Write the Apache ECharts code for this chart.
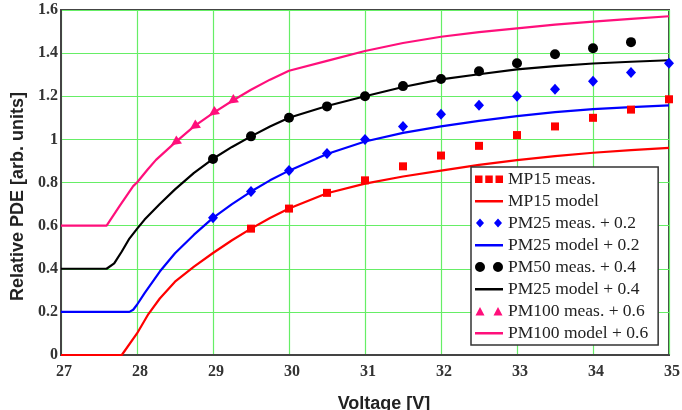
<!DOCTYPE html>
<html>
<head>
<meta charset="utf-8">
<script src="https://cdn.jsdelivr.net/npm/echarts@6/dist/echarts.min.js"></script>
<style>
  html, body { margin: 0; padding: 0; background: #fff; }
  #chart { width: 682px; height: 410px; }
</style>
</head>
<body>
<div id="chart"></div>
<script>
// ---- data ----
var xTicks = [27, 28, 29, 30, 31, 32, 33, 34, 35];
var yTicks = [0, 0.2, 0.4, 0.6, 0.8, 1, 1.2, 1.4, 1.6];

var mp15MeasX = [29.5, 30, 30.5, 31, 31.5, 32, 32.5, 33, 33.5, 34, 34.5, 35];
var mp15MeasY = [0.586, 0.679, 0.752, 0.81, 0.875, 0.925, 0.97, 1.02, 1.06, 1.10, 1.138, 1.186];

var mp15ModelX = [27, 27.8, 28, 28.15, 28.3, 28.5, 28.75, 29, 29.25, 29.5, 29.75, 30, 30.5, 31, 31.5, 32, 32.5, 33, 33.5, 34, 34.5, 35];
var mp15ModelY = [0, 0, 0.10, 0.19, 0.262, 0.34, 0.41, 0.473, 0.532, 0.586, 0.635, 0.679, 0.75, 0.795, 0.828, 0.855, 0.882, 0.904, 0.922, 0.938, 0.95, 0.961];

var pm25MeasX = [29, 29.5, 30, 30.5, 31, 31.5, 32, 32.5, 33, 33.5, 34, 34.5, 35];
var pm25MeasY = [0.637, 0.758, 0.856, 0.935, 1.0, 1.06, 1.116, 1.158, 1.2, 1.233, 1.27, 1.31, 1.353];

var pm25ModelX = [27, 27.9, 27.95, 28, 28.1, 28.3, 28.5, 28.75, 29, 29.25, 29.5, 29.75, 30, 30.5, 31, 31.5, 32, 32.5, 33, 33.5, 34, 34.5, 35];
var pm25ModelY = [0.2, 0.2, 0.21, 0.233, 0.287, 0.387, 0.472, 0.558, 0.636, 0.70, 0.758, 0.81, 0.855, 0.932, 0.99, 1.03, 1.06, 1.086, 1.108, 1.126, 1.14, 1.15, 1.158];

var pm50MeasX = [29, 29.5, 30, 30.5, 31, 31.5, 32, 32.5, 33, 33.5, 34, 34.5];
var pm50MeasY = [0.909, 1.014, 1.10, 1.153, 1.2, 1.247, 1.28, 1.316, 1.353, 1.395, 1.423, 1.451];

var pm50ModelX = [27, 27.6, 27.7, 27.8, 27.9, 28, 28.1, 28.3, 28.5, 28.75, 29, 29.25, 29.5, 29.75, 30, 30.5, 31, 31.5, 32, 32.5, 33, 33.5, 34, 34.5, 35];
var pm50ModelY = [0.4, 0.4, 0.425, 0.48, 0.54, 0.585, 0.628, 0.70, 0.768, 0.845, 0.91, 0.965, 1.014, 1.06, 1.10, 1.155, 1.20, 1.243, 1.278, 1.302, 1.325, 1.34, 1.352, 1.36, 1.367];

var pm100MeasX = [28.5, 28.75, 29, 29.25];
var pm100MeasY = [0.986, 1.06, 1.123, 1.178];

var pm100ModelX = [27, 27.6, 27.77, 27.95, 28, 28.14, 28.25, 28.5, 28.75, 29, 29.25, 29.5, 29.75, 30, 30.5, 31, 31.5, 32, 32.5, 33, 33.5, 34, 34.5, 35];
var pm100ModelY = [0.6, 0.6, 0.69, 0.783, 0.80, 0.86, 0.905, 0.985, 1.06, 1.122, 1.178, 1.23, 1.277, 1.318, 1.364, 1.41, 1.447, 1.476, 1.497, 1.515, 1.532, 1.546, 1.559, 1.571];

var names = ['MP15 meas.', 'MP15 model', 'PM25 meas. + 0.2', 'PM25 model + 0.2',
             'PM50 meas. + 0.4', 'PM25 model + 0.4', 'PM100 meas. + 0.6', 'PM100 model + 0.6'];

function pairs(xs, ys) { return xs.map(function (x, i) { return [x, ys[i]]; }); }

var RED = '#ff0000', BLUE = '#0000ff', BLACK = '#000000', PINK = '#ff0f7b';

var iconSquares = 'path://M0,0L0.1,0ZM0,10L0.1,10ZM0,1.5h7.5v7.5h-7.5zM10.25,1.5h7.5v7.5h-7.5zM20.5,1.5h7.5v7.5h-7.5z';
var iconDiamonds = 'path://M0,0L0.1,0ZM28,10L27.9,10ZM5,0.5L9,5L5,9.5L1,5ZM23,0.5L27,5L23,9.5L19,5Z';
var iconCircles = 'path://M0,5A5,5 0 1,0 10,5A5,5 0 1,0 0,5ZM18,5A5,5 0 1,0 28,5A5,5 0 1,0 18,5Z';
var iconTriangles = 'path://M0,0L0.1,0ZM28,10L27.9,10ZM5,1L9.5,9.5L0.5,9.5ZM23,1L27.5,9.5L18.5,9.5Z';
var iconLine = 'path://M0,0L0.1,0ZM0,10L0.1,10ZM0,4h28v2.4h-28z';

var tickFont = { fontFamily: 'Liberation Serif', fontWeight: 'bold', fontSize: 16, color: '#333' };

function lineSeries(name, xs, ys, color) {
  return {
    name: name, type: 'line', data: pairs(xs, ys), symbol: 'none', showSymbol: false,
    smooth: false,
    lineStyle: { color: color, width: 2.2 }, itemStyle: { color: color }, z: 2
  };
}
function scatterSeries(name, xs, ys, color, symbol, size, rotate) {
  return {
    name: name, type: 'scatter', data: pairs(xs, ys), symbol: symbol,
    symbolSize: size, symbolRotate: rotate || 0,
    itemStyle: { color: color, opacity: 1 }, z: 3
  };
}

var chart = echarts.init(document.getElementById('chart'), null, { renderer: 'canvas' });
chart.setOption({
  animation: false,
  backgroundColor: '#fff',
  grid: { left: 61, right: 13, top: 10, bottom: 55, show: true, borderColor: '#444', borderWidth: 2,
          backgroundColor: 'transparent', containLabel: false, outerBoundsMode: 'none' },
  xAxis: {
    type: 'value', min: xTicks[0], max: xTicks[xTicks.length - 1], interval: 1,
    axisLine: { show: true, onZero: false, lineStyle: { color: '#444', width: 2 } },
    axisTick: { show: false },
    splitLine: { show: true, lineStyle: { color: '#66ee66', width: 1.2 } },
    axisLabel: Object.assign({ margin: 9, padding: [0, 0, 0, 6] }, tickFont),
    name: 'Voltage [V]', nameLocation: 'middle', nameGap: 40,
    nameTextStyle: { fontFamily: 'Liberation Sans', fontWeight: 'bold', fontSize: 18, color: '#222', padding: [0, 0, 0, 38] }
  },
  yAxis: {
    type: 'value', min: yTicks[0], max: yTicks[yTicks.length - 1], interval: 0.2,
    axisLine: { show: true, onZero: false, lineStyle: { color: '#444', width: 2 } },
    axisTick: { show: false },
    splitLine: { show: true, lineStyle: { color: '#66ee66', width: 1.2 } },
    axisLabel: Object.assign({ margin: 3, formatter: function (v) { return String(+v.toFixed(1)); } }, tickFont),
    name: 'Relative PDE [arb. units]', nameLocation: 'middle', nameGap: 32,
    nameTextStyle: { fontFamily: 'Liberation Sans', fontWeight: 'bold', fontSize: 18, color: '#222', padding: [0, 28, 0, 0] }
  },
  legend: {
    orient: 'vertical', left: 471, top: 167,
    padding: [3, 10, 3, 4], itemGap: 4, itemWidth: 28, itemHeight: 10,
    backgroundColor: '#fff', borderColor: '#333', borderWidth: 1.5, borderRadius: 0,
    textStyle: { fontFamily: 'Liberation Serif', fontSize: 17.5, color: '#222', lineHeight: 18 },
    data: [
      { name: names[0], icon: iconSquares },
      { name: names[1], icon: iconLine },
      { name: names[2], icon: iconDiamonds },
      { name: names[3], icon: iconLine },
      { name: names[4], icon: iconCircles },
      { name: names[5], icon: iconLine },
      { name: names[6], icon: iconTriangles },
      { name: names[7], icon: iconLine }
    ]
  },
  series: [
    scatterSeries(names[0], mp15MeasX, mp15MeasY, RED, 'rect', 8),
    lineSeries(names[1], mp15ModelX, mp15ModelY, RED),
    scatterSeries(names[2], pm25MeasX, pm25MeasY, BLUE, 'diamond', [10, 11]),
    lineSeries(names[3], pm25ModelX, pm25ModelY, BLUE),
    scatterSeries(names[4], pm50MeasX, pm50MeasY, BLACK, 'circle', 10),
    lineSeries(names[5], pm50ModelX, pm50ModelY, BLACK),
    scatterSeries(names[6], pm100MeasX, pm100MeasY, PINK, 'triangle', 10, 125),
    lineSeries(names[7], pm100ModelX, pm100ModelY, PINK)
  ]
});
</script>
</body>
</html>
